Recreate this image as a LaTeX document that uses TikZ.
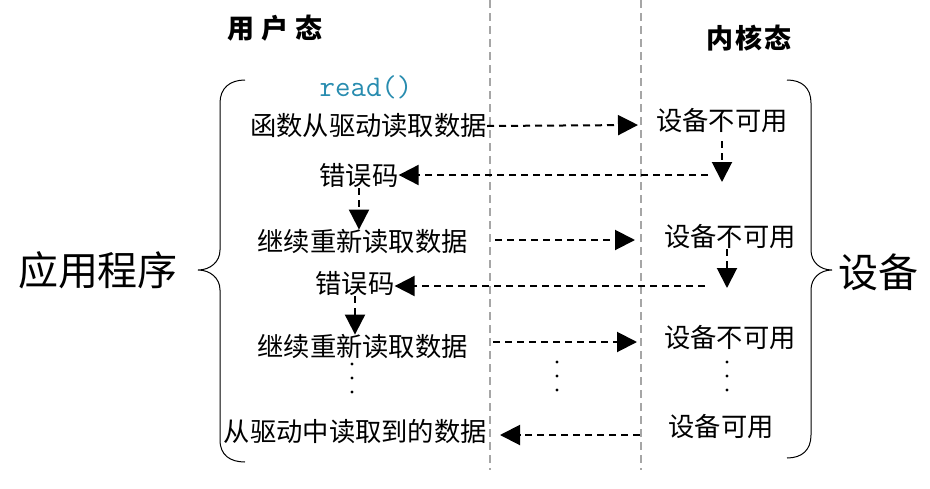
\documentclass[tikz,border=0pt]{standalone}
\usepackage{fontspec}
\usepackage{tikz}
\usetikzlibrary{arrows.meta}
\newfontfamily\cjk{Noto Sans CJK SC}
\definecolor{readcol}{RGB}{40,140,175}

\tikzset{
  lbl/.style={inner sep=0pt, font=\cjk\fontsize{26.3}{26.3}\selectfont},
  big/.style={inner sep=0pt, font=\cjk\fontsize{40}{40}\selectfont},
  ttl/.style={inner sep=0pt, font=\cjk\bfseries\fontsize{27}{27}\selectfont},
  darr/.style={-{Triangle[length=20pt,width=20pt]}, dash pattern=on 7pt off 5pt, line width=2pt},
  sep/.style={gray!70, line width=2pt, dash pattern=on 8pt off 5pt},
}

\begin{document}
\begin{tikzpicture}[x=1pt,y=-1pt]
                            \useasboundingbox (0,0) rectangle (930,488);
                            \draw[sep] (490,0) -- (490,470);
                            \draw[sep] (641,0) -- (641,470);

                            \node[ttl] (user) at (275,28) {用\hspace{7pt}户\hspace{7pt}态};
                            \node[ttl] (kern) at (749,38) {内\hspace{2pt}核\hspace{2pt}态};
                            \node[inner sep=0pt, font=\ttfamily\fontsize{30}{30}\selectfont, text=readcol] (rd) at (366,87) {read()};

                            \node[big] (app) at (98,270) {应用程序};
                            \node[big] (dev) at (878,272) {设备};
                            \draw[line width=1pt] (245,80) .. controls (230,80) and (220,88) .. (220,103) -- (220,250) .. controls (220,262) and (210,270) .. (198,270) .. controls (210,270) and (220,278) .. (220,290) -- (220,440) .. controls (220,455) and (230,462) .. (245,462);
                            \draw[line width=1pt] (787,80) .. controls (802,80) and (811,88) .. (811,103) -- (811,250) .. controls (811,262) and (820,270) .. (832,270) .. controls (820,270) and (811,278) .. (811,290) -- (811,435) .. controls (811,450) and (802,458) .. (787,458);

                            % user side
                            \node[lbl, anchor=east] (f1) at (487,126) {函数从驱动读取数据};
                            \node[lbl] (e1) at (359,176) {错误码};
                            \node[lbl, anchor=east] (c1) at (468,242) {继续重新读取数据};
                            \node[lbl] (e2) at (355,284) {错误码};
                            \node[lbl, anchor=east] (c2) at (468,347) {继续重新读取数据};
                            \node[lbl, anchor=east] (got) at (487,432) {从驱动中读取到的数据};

                            % device side
                            \node[lbl] (d1) at (722,121) {设备不可用};
                            \node[lbl] (d2) at (730,237) {设备不可用};
                            \node[lbl] (d3) at (730,338) {设备不可用};
                            \node[lbl] (ok) at (721,427) {设备可用};

                            \coordinate (k1) at (638,125);
                            \coordinate (t1) at (722,182);
                            \coordinate (r1) at (708,175);
                            \coordinate (k2) at (635,240);
                            \coordinate (t2) at (727,288);
                            \coordinate (r2) at (705,286);
                            \coordinate (k3) at (637,342);
                            \coordinate (k4) at (640,435);

                            \draw[darr] (f1.east) -- (k1);
                            \draw[darr, shorten <=8pt] (d1.south) -- (t1);
                            \draw[darr] (r1) -- (r1 -| e1.east);
                            \draw[darr] (e1.south) -- (e1.south |- c1.north);
                            \draw[darr, shorten <=27pt] (c1.east |- k2) -- (k2);
                            \draw[darr] (d2.south -| t2) -- (t2);
                            \draw[darr] (r2) -- (r2 -| e2.east);
                            \draw[darr] (e2.south) -- (e2.south |- c2.north);
                            \draw[darr, shorten <=25pt] (c2.east |- k3) -- (k3);
                            \draw[darr, shorten >=13pt] (k4) -- (k4 -| got.east);

                            \foreach \y in {364,378,392} \fill (352,\y) circle (1.6pt);
                            \foreach \y in {362,376,390} \fill (557,\y) circle (1.6pt);
                            \foreach \y in {362,376,390} \fill (727,\y) circle (1.6pt);
\end{tikzpicture}
\end{document}
